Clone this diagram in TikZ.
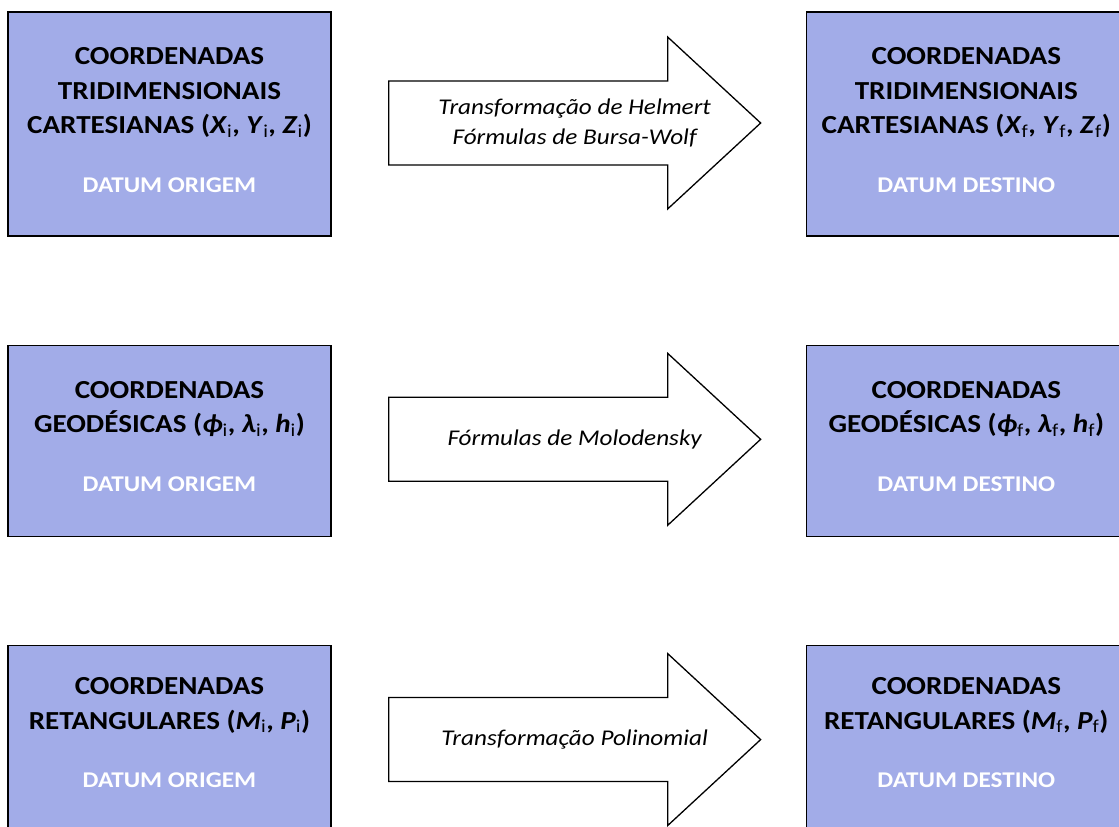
\documentclass[tikz,border=0pt]{standalone}
\usepackage{fontspec}
\setmainfont{Carlito}[FakeStretch=1.12]
\usetikzlibrary{positioning}
\definecolor{lavanda}{RGB}{162,172,232}
\newcommand{\sbs}[1]{\textsubscript{\mdseries\upshape #1}}
\newcommand{\datum}[1]{\fontsize{22.5}{30}\selectfont\textcolor{white}{#1}}
\tikzset{
    %Define style for boxes
    caixa/.style={
           rectangle,
           draw=black, line width=1.3pt,
           fill=lavanda,
           minimum width=323pt,
           inner sep=0pt},
    % Define style for box texts
    texto/.style={
           font=\fontsize{26}{34.5}\selectfont\bfseries,
           align=center},
    % Define style for arrow labels
    rotulo/.style={
           font=\fontsize{22.5}{29.5}\selectfont\itshape,
           align=center},
    % Define block arrow
    seta/.pic={
           \draw[line width=1.3pt, fill=white]
               (0,-42) -- (279,-42) -- (279,-86) -- (372,0)
               -- (279,86) -- (279,42) -- (0,42) -- cycle;}
}

\begin{document}
\begin{tikzpicture}[x=1pt,y=1pt,node distance=108pt]
\useasboundingbox (0,0) rectangle (1119,827);
\clip (0,0) rectangle (1119,827);
% origem
\node[caixa, minimum height=224pt] at (169.5,703) (O1) {};
\node[caixa, minimum height=191pt, below=of O1] (O2) {};
\node[caixa, minimum height=191pt, below=of O2] (O3) {};
% destino
\node[caixa, minimum height=224pt, minimum width=320pt, right=474pt of O1] (D1) {};
\node[caixa, minimum height=191pt, minimum width=320pt, right=474pt of O2] (D2) {};
\node[caixa, minimum height=191pt, minimum width=320pt, right=474pt of O3] (D3) {};
% textos
\node[texto] at ([yshift=4pt]O1.center) (O1t)
    {COORDENADAS\\TRIDIMENSIONAIS\\CARTESIANAS (\textit{X}\sbs{i}, \textit{Y}\sbs{i}, \textit{Z}\sbs{i})\\[24pt]
     \datum{DATUM ORIGEM}};
\node[texto] at ([yshift=4.5pt]O2.center) (O2t)
    {COORDENADAS\\GEODÉSICAS (\textit{ϕ}\sbs{i}, \textit{λ}\sbs{i}, \textit{h}\sbs{i})\\[24pt]
     \datum{DATUM ORIGEM}};
\node[texto] at ([yshift=8.5pt]O3.center) (O3t)
    {COORDENADAS\\RETANGULARES (\textit{M}\sbs{i}, \textit{P}\sbs{i})\\[24pt]
     \datum{DATUM ORIGEM}};
\node[texto] at ([yshift=4pt]D1.center) (D1t)
    {COORDENADAS\\TRIDIMENSIONAIS\\CARTESIANAS (\textit{X}\sbs{f}, \textit{Y}\sbs{f}, \textit{Z}\sbs{f})\\[24pt]
     \datum{DATUM DESTINO}};
\node[texto] at ([yshift=4.5pt]D2.center) (D2t)
    {COORDENADAS\\GEODÉSICAS (\textit{ϕ}\sbs{f}, \textit{λ}\sbs{f}, \textit{h}\sbs{f})\\[24pt]
     \datum{DATUM DESTINO}};
\node[texto] at ([yshift=8.5pt]D3.center) (D3t)
    {COORDENADAS\\RETANGULARES (\textit{M}\sbs{f}, \textit{P}\sbs{f})\\[24pt]
     \datum{DATUM DESTINO}};
% setas
\pic at ([xshift=57pt,yshift=1pt]O1.east) {seta};
\pic at ([xshift=57pt,yshift=1.5pt]O2.east) {seta};
\pic at ([xshift=57pt,yshift=1.5pt]O3.east) {seta};
\node[rotulo] at ([xshift=243pt,yshift=1pt]O1.east) (T1)
    {Transformação de Helmert\\Fórmulas de Bursa-Wolf};
\node[rotulo] at ([xshift=243pt,yshift=1.5pt]O2.east) (T2) {Fórmulas de Molodensky};
\node[rotulo] at ([xshift=243pt,yshift=1.5pt]O3.east) (T3) {Transformação Polinomial};
\end{tikzpicture}
\end{document}
